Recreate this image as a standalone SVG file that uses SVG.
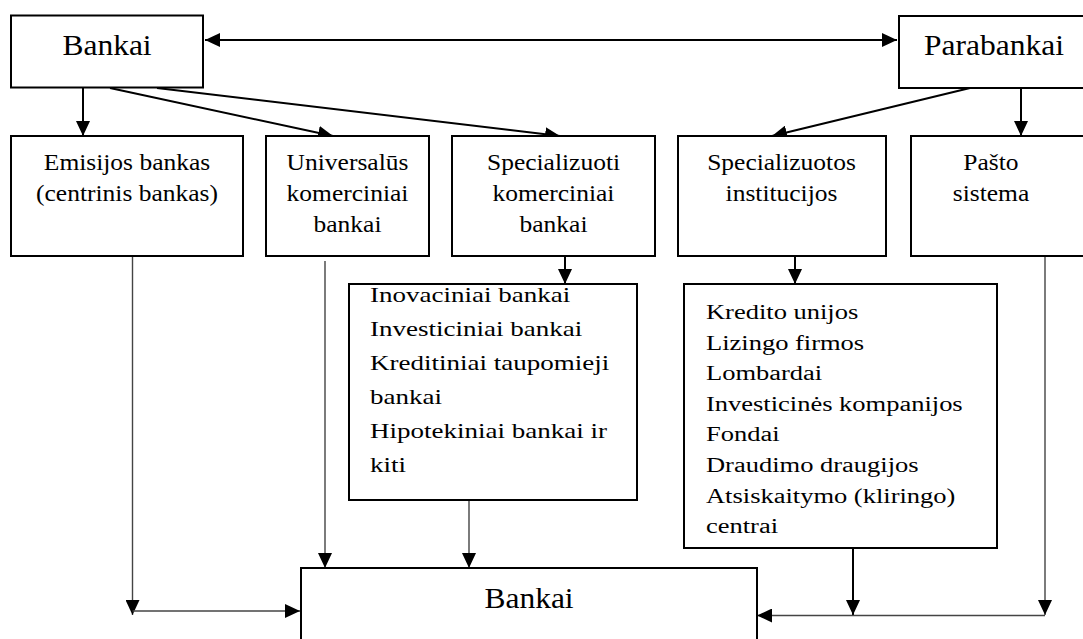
<svg xmlns="http://www.w3.org/2000/svg" width="1083" height="639" viewBox="0 0 1083 639">
  <style>
    .box { fill: #fff; stroke: #000; stroke-width: 2; }
    .t { font-family: "Liberation Serif", "Times New Roman", "DejaVu Serif", serif; fill: #000; }
    .title { font-size: 30px; text-anchor: middle; }
    .mid { font-size: 23.7px; text-anchor: middle; }
    .list { font-size: 21px; }
    .list2 { font-size: 21.6px; }
    .link { fill: none; stroke: #000; stroke-width: 2; }
    .thin { fill: none; stroke: #444; stroke-width: 1.4; }
  </style>
  <defs>
    <marker id="arrow" markerUnits="userSpaceOnUse" markerWidth="16" markerHeight="14" refX="15" refY="7" orient="auto-start-reverse">
      <path d="M0,0 L15,7 L0,14 z" fill="#000"/>
    </marker>
  </defs>

  <rect width="1083" height="639" fill="#fff"/>

  <!-- connectors -->
  <g id="connectors">
    <line class="link" x1="205" y1="40" x2="897" y2="40" marker-start="url(#arrow)" marker-end="url(#arrow)"/>
    <line class="link" x1="83" y1="88" x2="83" y2="136" marker-end="url(#arrow)"/>
    <line class="link" x1="110" y1="88" x2="333" y2="136" marker-end="url(#arrow)"/>
    <line class="link" x1="157" y1="88" x2="560" y2="136" marker-end="url(#arrow)"/>
    <line class="link" x1="970" y1="88" x2="772" y2="136" marker-end="url(#arrow)"/>
    <line class="link" x1="1021" y1="88" x2="1021" y2="136" marker-end="url(#arrow)"/>
    <line class="link" x1="565" y1="256" x2="565" y2="284" marker-end="url(#arrow)"/>
    <line class="link" x1="795" y1="256" x2="795" y2="284" marker-end="url(#arrow)"/>

    <line class="thin" x1="132.5" y1="256" x2="132.5" y2="615" marker-end="url(#arrow)"/>
    <line class="thin" x1="132.5" y1="611" x2="300" y2="611" marker-end="url(#arrow)"/>
    <line class="thin" x1="325" y1="261" x2="325" y2="568" marker-end="url(#arrow)"/>
    <line class="thin" x1="469" y1="500" x2="469" y2="568" marker-end="url(#arrow)"/>
    <line class="link" x1="853" y1="545" x2="853" y2="615" marker-end="url(#arrow)"/>
    <line class="thin" x1="1045" y1="256" x2="1045" y2="615" marker-end="url(#arrow)"/>
    <line class="thin" x1="1045" y1="615.5" x2="757" y2="615.5" marker-end="url(#arrow)"/>
  </g>

  <g id="bankai">
    <rect class="box" x="11" y="15.5" width="192" height="72"/>
    <g transform="translate(107,0) scale(1.05,1)">
      <text class="t title" x="0" y="55">Bankai</text>
    </g>
  </g>

  <g id="parabankai">
    <rect class="box" x="899" y="16" width="200" height="72"/>
    <g transform="translate(994,0) scale(1.05,1)">
      <text class="t title" x="0" y="55">Parabankai</text>
    </g>
  </g>

  <g id="emisijos">
    <rect class="box" x="11" y="136" width="232" height="120"/>
    <g transform="translate(127,0) scale(1.076,1)">
      <text class="t mid" x="0" y="170">Emisijos bankas</text>
      <text class="t mid" x="0" y="201">(centrinis bankas)</text>
    </g>
  </g>

  <g id="universalus">
    <rect class="box" x="266" y="136" width="163" height="120"/>
    <g transform="translate(347.5,0) scale(1.076,1)">
      <text class="t mid" x="0" y="170">Universalūs</text>
      <text class="t mid" x="0" y="201">komerciniai</text>
      <text class="t mid" x="0" y="232">bankai</text>
    </g>
  </g>

  <g id="specializuoti">
    <rect class="box" x="452" y="136" width="203" height="120"/>
    <g transform="translate(553.5,0) scale(1.076,1)">
      <text class="t mid" x="0" y="170">Specializuoti</text>
      <text class="t mid" x="0" y="201">komerciniai</text>
      <text class="t mid" x="0" y="232">bankai</text>
    </g>
  </g>

  <g id="specializuotos">
    <rect class="box" x="678" y="136" width="208" height="120"/>
    <g transform="translate(781.5,0) scale(1.076,1)">
      <text class="t mid" x="0" y="170">Specializuotos</text>
      <text class="t mid" x="0" y="201">institucijos</text>
    </g>
  </g>

  <g id="pasto">
    <rect class="box" x="911" y="136" width="190" height="120"/>
    <g transform="translate(991,0) scale(1.076,1)">
      <text class="t mid" x="0" y="170">Pašto</text>
      <text class="t mid" x="0" y="201">sistema</text>
    </g>
  </g>

  <g id="bankai-rusys">
    <rect class="box" x="349" y="284" width="288" height="216"/>
    <g transform="translate(370,0) scale(1.286,1)">
      <text class="t list">
        <tspan x="0" y="302">Inovaciniai bankai</tspan>
        <tspan x="0" y="336">Investiciniai bankai</tspan>
        <tspan x="0" y="370">Kreditiniai taupomieji</tspan>
        <tspan x="0" y="404">bankai</tspan>
        <tspan x="0" y="438">Hipotekiniai bankai ir</tspan>
        <tspan x="0" y="472">kiti</tspan>
      </text>
    </g>
  </g>

  <g id="institucijos">
    <rect class="box" x="684" y="284" width="313" height="264"/>
    <g transform="translate(706,0) scale(1.227,1)">
      <text class="t list2">
        <tspan x="0" y="319">Kredito unijos</tspan>
        <tspan x="0" y="349.6">Lizingo firmos</tspan>
        <tspan x="0" y="380.2">Lombardai</tspan>
        <tspan x="0" y="410.8">Investicinės kompanijos</tspan>
        <tspan x="0" y="441.4">Fondai</tspan>
        <tspan x="0" y="472">Draudimo draugijos</tspan>
        <tspan x="0" y="502.6">Atsiskaitymo (kliringo)</tspan>
        <tspan x="0" y="533.2">centrai</tspan>
      </text>
    </g>
  </g>

  <g id="bankai-apacia">
    <rect class="box" x="301" y="568" width="456" height="90"/>
    <g transform="translate(529,0) scale(1.05,1)">
      <text class="t title" x="0" y="608">Bankai</text>
    </g>
  </g>
</svg>
